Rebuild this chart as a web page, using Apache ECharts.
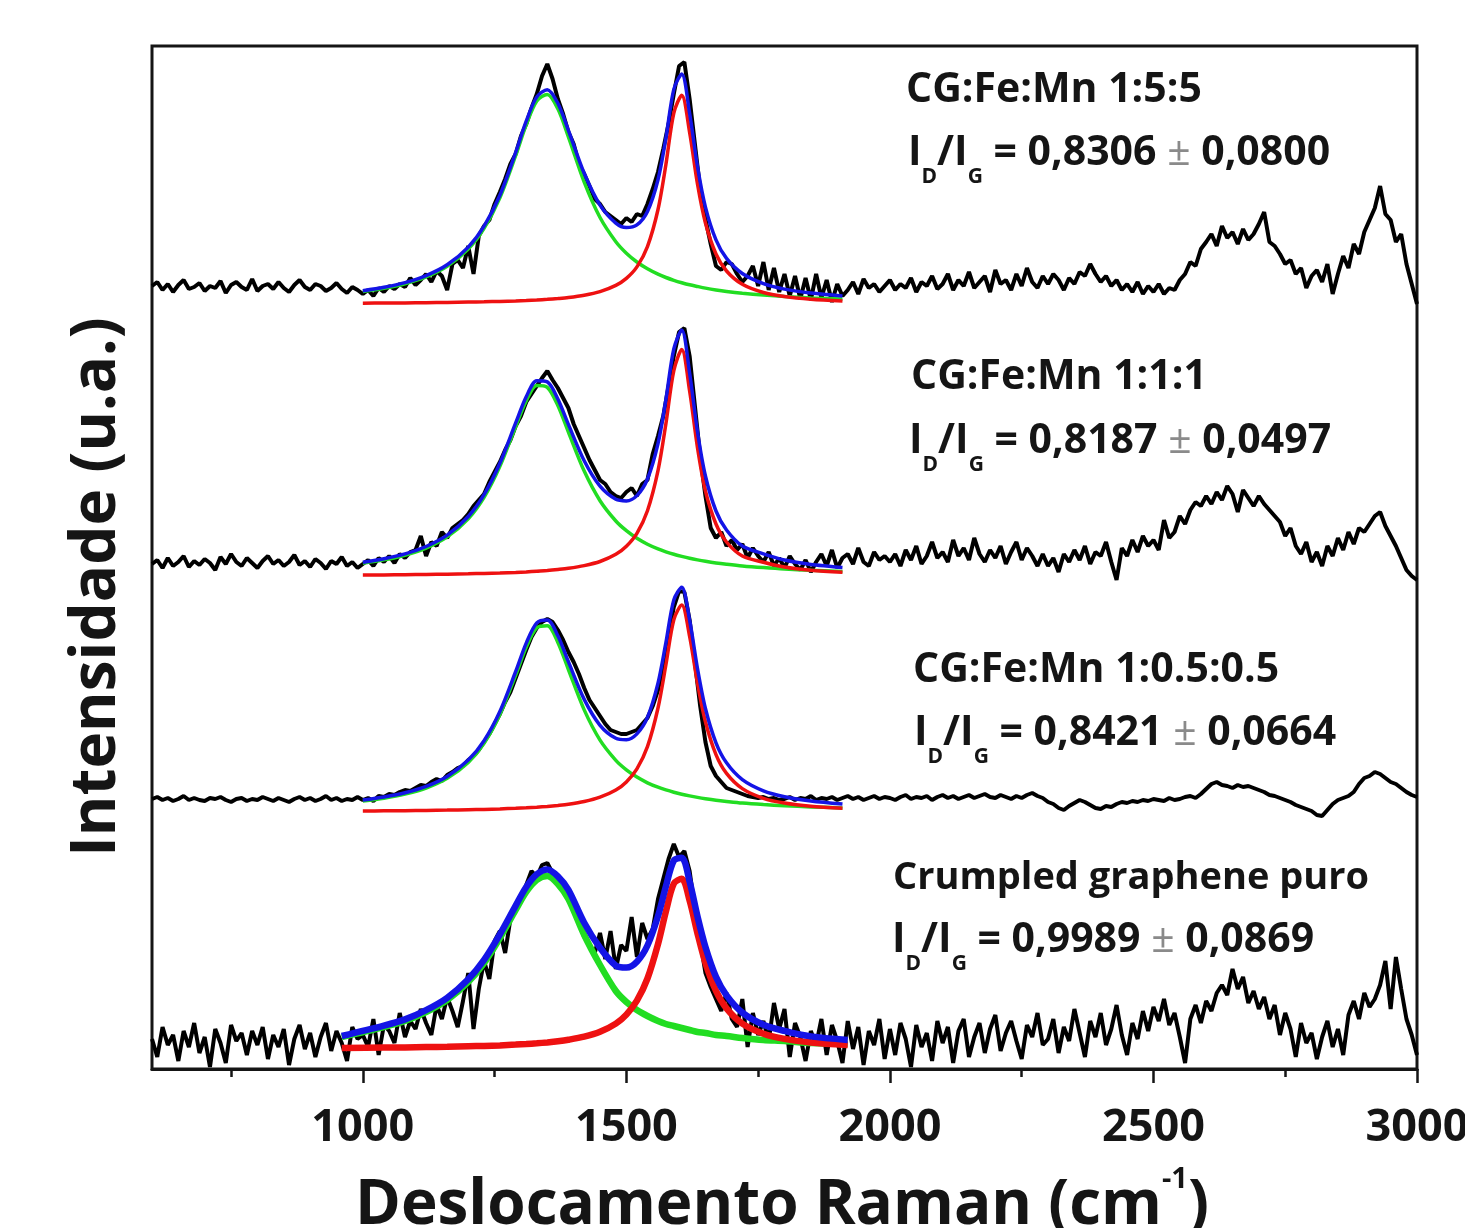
<!DOCTYPE html>
<html>
<head>
<meta charset="utf-8">
<title>Espectros Raman</title>
<script src="https://cdn.jsdelivr.net/npm/echarts@6/dist/echarts.min.js"></script>
<style>
  html, body { margin: 0; padding: 0; background: #fff; }
  #chart { width: 1465px; height: 1228px; }
</style>
</head>
<body>
<div id="chart"></div>
<script>
// espectros medidos: intensidade relativa à linha de base do ajuste, de 600 a 3000 cm-1, passo 10
const shiftStart = 600;
const shiftStep = 10;

const spec155 = [
  18,22,14,20,12,19,24,15,17,21,
  13,18,16,23,11,19,22,17,14,25,
  13,18,20,15,22,16,12,19,24,17,
  14,20,18,13,16,21,15,11,17,14,
  10,14,8,16,12,18,15,20,17,26,
  19,24,30,22,33,28,14,40,44,36,
  58,30,68,78,84,100,112,125,140,150,
  168,180,196,210,228,240,225,205,190,172,
  160,140,130,118,105,100,92,88,84,80,
  86,82,90,88,100,115,132,155,180,210,
  238,242,205,160,115,85,60,38,34,42,
  40,30,22,28,38,18,42,14,36,12,
  30,8,28,5,26,4,30,6,24,2,
  20,8,14,22,10,25,16,20,12,18,
  24,14,20,16,26,12,22,18,28,15,
  20,30,14,24,18,32,16,22,28,12,
  34,20,24,14,30,18,36,22,16,28,
  20,30,24,14,26,20,32,28,40,30,
  22,28,18,24,14,20,12,22,10,18,
  12,20,10,16,14,24,30,42,38,55,
  62,70,58,78,66,72,60,75,64,70,
  80,92,62,58,50,40,44,30,36,16,
  28,34,22,40,10,30,48,36,60,50,
  72,84,96,118,90,84,62,70,40,20,
  0
];

const spec111 = [
  12,16,8,18,10,14,20,9,15,11,
  17,13,6,19,12,22,14,10,18,13,
  8,15,20,12,16,10,14,21,11,15,
  9,17,13,7,15,12,19,10,14,8,
  12,16,10,18,14,20,13,22,18,24,
  26,40,20,34,30,44,38,48,52,56,
  62,70,76,82,94,104,114,126,136,150,
  160,174,182,190,198,205,196,188,178,168,
  152,140,128,116,106,96,92,84,80,78,
  84,88,80,92,96,122,140,160,190,220,
  244,248,220,170,120,80,48,38,44,30,
  36,26,32,18,28,20,14,24,10,18,
  8,20,12,6,16,4,14,22,10,26,
  8,18,22,12,28,14,10,24,16,20,
  14,22,10,26,16,30,12,20,34,18,
  24,14,36,20,28,16,38,22,14,26,
  18,30,12,24,34,16,28,20,10,22,
  10,18,4,22,14,26,16,30,12,24,
  20,34,14,-4,28,20,36,24,40,30,
  36,26,56,38,44,60,52,66,74,70,
  80,72,84,76,90,82,64,86,78,70,
  80,72,66,60,54,40,48,30,22,34,
  14,24,10,30,20,38,26,44,32,48,
  44,52,60,64,50,40,30,18,6,0,
  -4
];

const spec0505 = [
  13,15,12,14,11,13,16,12,14,12,
  11,14,13,15,12,10,13,14,11,13,
  12,15,13,11,14,12,10,13,15,12,
  14,11,13,16,12,14,11,13,12,15,
  12,14,11,16,15,18,17,20,22,21,
  24,27,26,30,33,31,37,40,44,46,
  52,56,62,70,78,88,98,110,120,134,
  148,162,175,184,190,193,190,182,172,160,
  150,138,124,112,104,96,88,82,80,78,
  78,80,82,88,94,106,122,146,176,205,
  221,220,192,150,106,70,46,36,30,24,
  22,20,18,16,15,14,15,13,14,12,
  13,15,12,14,13,16,12,14,13,15,
  12,14,16,13,15,12,14,16,13,15,
  14,12,15,17,13,15,14,16,12,15,
  17,14,16,13,15,17,14,16,18,15,
  14,17,15,13,16,14,17,19,16,14,
  10,8,4,2,6,9,12,10,7,4,
  3,6,5,8,10,9,11,10,12,11,
  13,12,11,14,12,13,15,16,14,18,
  23,28,30,27,26,24,27,25,26,24,
  22,20,17,16,14,12,10,7,5,3,
  1,-3,-4,2,8,12,14,16,20,28,
  34,36,40,38,34,30,28,24,20,17,
  15
];

const specPuro = [
  10,-8,22,4,14,-12,18,2,26,-4,
  12,-18,20,6,-14,24,8,16,-6,18,
  4,22,-10,14,2,20,-16,10,24,0,
  16,-8,12,26,-2,18,6,-12,22,10,
  14,2,30,-6,24,18,6,36,12,28,
  20,40,26,14,44,30,52,38,22,48,
  76,20,60,88,70,108,118,96,130,140,
  150,164,178,172,184,186,176,170,160,150,
  140,126,112,104,96,116,90,118,80,104,
  98,132,92,126,110,120,150,170,190,205,
  192,198,178,140,108,76,62,50,38,56,
  30,22,50,2,36,14,28,8,46,20,
  40,-8,26,12,-12,18,4,30,-6,24,
  8,-14,28,0,22,-16,18,4,30,-10,
  20,-6,26,10,-18,24,2,16,-12,28,
  6,22,-14,18,30,-8,12,26,-4,20,
  34,-2,16,28,8,-10,24,12,36,4,
  10,30,-4,22,8,40,16,-8,28,12,
  36,4,20,44,14,-6,26,10,38,18,
  42,28,50,24,36,12,-14,30,44,26,
  48,38,56,64,54,80,60,72,46,58,
  40,52,30,44,14,36,20,-8,26,6,
  16,-10,12,28,2,20,-6,34,48,30,
  56,42,50,64,88,40,92,60,30,14,
  -6
];

// deslocamento vertical de cada espectro no gráfico empilhado
const offsets = [765, 493, 257, 20];

// ajustes lorentzianos (banda D = verde, banda G = vermelho, soma = azul)
const fitX = [1000,1040,1080,1120,1160,1200,1230,1260,1290,1310,1330,1350,1370,1390,1420,1450,1480,
  1500,1520,1540,1560,1575,1590,1605,1620,1635,1650,1670,1690,1720,1760,1800,1850,1910];
const fitXPuro = [960,1040,1080,1120,1160,1200,1230,1260,1290,1310,1330,1350,1370,1390,1420,1450,1480,
  1500,1520,1540,1560,1575,1590,1605,1620,1635,1650,1670,1690,1720,1760,1800,1850,1920];

const green155 = [12.5,15.7,20.3,27.1,37.7,55.0,75.6,106.2,148.5,179.3,203.1,209.6,195.2,167.2,121.9,86.5,62.3,
  50.8,42,35.2,29.8,26.5,23.7,21.3,19.2,17.5,15.9,14.1,12.6,10.8,8.9,7.4,6.1,4.9];
const red155 = [0.8,1.0,1.1,1.3,1.5,1.9,2.2,2.6,3.1,3.5,4.0,4.7,5.5,6.5,8.8,12.4,18.6,
  25.6,37.1,57.4,94.5,139.5,191,208.7,171.6,119.7,81,50,33,19.7,11.5,7.5,4.8,3.1];
const blue155 = [13.3,16.7,21.4,28.4,39.2,56.9,77.8,108.8,151.6,182.8,207.1,214.3,200.7,173.7,130.7,98.9,80.9,
  76.4,79.1,92.6,124.3,166,214.7,230,190.8,137.2,96.9,64.1,45.6,30.5,20.4,14.9,10.9,8.0];

const green111 = [12.7,16.1,20.8,27.9,39.1,57.3,78.7,109.7,149.5,175.1,190.5,188.6,170.5,143.9,104.9,75.3,55.0,
  45.3,37.7,31.8,27.1,24.2,21.7,19.6,17.7,16.1,14.7,13.1,11.8,10.1,8.4,7.0,5.8,4.6];
const red111 = [1.0,1.1,1.3,1.6,1.8,2.2,2.6,3.0,3.6,4.1,4.8,5.5,6.5,7.7,10.4,14.5,21.7,
  29.8,42.7,65.2,105.3,152.3,205.3,226.4,185,128,85,52,34,20,13.8,9.0,5.8,3.8];
const blue111 = [13.7,17.2,22.1,29.5,40.9,59.5,81.3,112.7,153.1,179.2,195.3,194.1,177,151.6,115.3,89.8,76.7,
  75.1,80.4,97,132.4,176.5,227,246,203,144,100,65,46,30,22.2,16,11.6,8.4];

const green0505 = [10.9,13.8,17.9,24.0,33.7,49.6,68.7,97.4,136.8,164.7,184.3,186.3,169.6,142.5,102.1,71.9,51.7,
  42.2,34.9,29.2,24.8,22.1,19.8,17.8,16.1,14.6,13.3,11.8,10.6,9.0,7.5,6.3,5.1,4.1];
const red0505 = [1.0,1.2,1.3,1.6,1.9,2.3,2.6,3.1,3.7,4.2,4.8,5.6,6.6,7.8,10.5,14.8,22.0,
  30.1,43.2,65.4,104,147.2,192.3,207,175.7,128.6,90.2,57.4,38.6,23.4,13.7,9.0,5.8,3.8];
const blue0505 = [11.9,15.0,19.2,25.6,35.6,51.9,71.3,100.5,140.5,168.9,189.1,191.9,176.2,150.3,112.6,86.7,73.7,
  72.3,78.1,94.6,128.8,169.3,212.1,224.8,191.8,143.2,103.5,69.2,49.2,32.4,21.2,15.3,10.9,7.9];

const greenPuro = [12,22,28,37,49,67,86,111,139,157,169,173,165,150,114,84,58,
  47,39,33,28,25,23,21,19,17,16,14,13,11,9,8,6,5];
const redPuro = [1,1.4,1.6,1.9,2.2,2.7,3.1,3.6,4.4,5.0,5.7,6.6,7.7,9.2,12.3,17.2,25.4,
  34.4,48.3,70.5,104.9,137.6,165.4,170.3,148.3,115.4,86,58.1,40.6,25.4,15.3,10.1,6.6,4.1];
const bluePuro = [13,23.4,29.6,38.9,51.2,69.7,89.1,114.6,143.4,162,174.7,179.6,172.7,159.2,126.3,101.2,83.4,
  81.4,87.3,103.5,132.9,162.6,188.4,191.3,167.3,132.4,102,72.1,53.6,36.4,24.3,18.1,12.6,9.1];

const sampleNames = ['CG:Fe:Mn 1:5:5', 'CG:Fe:Mn 1:1:1', 'CG:Fe:Mn 1:0.5:0.5', 'Crumpled graphene puro'];
const ratios = ['0,8306', '0,8187', '0,8421', '0,9989'];
const ratioErrors = ['0,0800', '0,0497', '0,0664', '0,0869'];

const majorTicks = [1000, 1500, 2000, 2500, 3000];
const minorTicks = [750, 1250, 1750, 2250, 2750];

const fontFam = "'Open Sans', 'Liberation Sans', sans-serif";
const ink = '#151515';

const chart = echarts.init(document.getElementById('chart'));

const spectra = [spec155, spec111, spec0505, specPuro];
const fits = [
  { x: fitX, d: green155, g: red155, s: blue155, w: 3.5 },
  { x: fitX, d: green111, g: red111, s: blue111, w: 3.5 },
  { x: fitX, d: green0505, g: red0505, s: blue0505, w: 3.5 },
  { x: fitXPuro, d: greenPuro, g: redPuro, s: bluePuro, w: 6.5 }
];

const series = [];
spectra.forEach((spec, k) => {
  const off = offsets[k];
  series.push({
    type: 'line', name: sampleNames[k], showSymbol: false, symbol: 'none',
    data: spec.map((v, i) => [shiftStart + i * shiftStep, off + v]),
    lineStyle: { color: '#000', width: 4 }, z: 2
  });
  const f = fits[k];
  const mk = (vals, color, z) => ({
    type: 'line', showSymbol: false, symbol: 'none', smooth: 0.3,
    data: vals.map((v, i) => [f.x[i], off + v]),
    lineStyle: { color: color, width: f.w }, z: z
  });
  series.push(mk(f.d, '#22dd22', 3));
  series.push(mk(f.g, '#ee1111', 4));
  series.push(mk(f.s, '#1414e6', 5));
});

// textos das anotações
const mainStyle = { fontSize: 41, fontWeight: 'bold', fontFamily: fontFam, fill: ink, lineHeight: 48, verticalAlign: 'top' };
const nameStyleNarrow = Object.assign({}, mainStyle, { fontSize: 38 });
const subStyle = { fontSize: 21, fontWeight: 'bold', fontFamily: fontFam, fill: ink, lineHeight: 22, padding: [34, 0, 0, 0], verticalAlign: 'top' };
const pmStyle = { fontSize: 41, fontWeight: 'normal', fontFamily: fontFam, fill: '#8a8a8a', lineHeight: 48, verticalAlign: 'top' };

const labelPos = [
  { x1: 906, y1: 70, x2: 908, y2: 133 },
  { x1: 911, y1: 357, x2: 909, y2: 421 },
  { x1: 913, y1: 650, x2: 914, y2: 713 },
  { x1: 893, y1: 859, x2: 892, y2: 920 }
];

const graphics = [];
labelPos.forEach((p, k) => {
  graphics.push({
    type: 'text', left: p.x1, top: p.y1, z: 100,
    style: { text: '{m|' + sampleNames[k] + '}', rich: { m: k === 3 ? nameStyleNarrow : mainStyle } }
  });
  graphics.push({
    type: 'text', left: p.x2, top: p.y2, z: 100,
    style: {
      text: '{m|I}{s|D}{m|/I}{s|G}{m| = ' + ratios[k] + ' }{pm|±}{m| ' + ratioErrors[k] + '}',
      rich: { m: mainStyle, s: subStyle, pm: pmStyle }
    }
  });
});

// títulos dos eixos
graphics.push({
  type: 'text', left: 355, top: 1157, z: 100,
  style: {
    text: '{t|Deslocamento Raman (cm}{sup|-1}{t|)}',
    rich: {
      t: { fontSize: 62, fontWeight: 'bold', fontFamily: fontFam, fill: ink, lineHeight: 80, verticalAlign: 'bottom' },
      sup: { fontSize: 29, fontWeight: 'bold', fontFamily: fontFam, fill: ink, lineHeight: 24, padding: [8, 0, 0, 0], verticalAlign: 'top' }
    }
  }
});
graphics.push({
  type: 'text', x: 97, y: 587, rotation: Math.PI / 2, z: 100,
  style: {
    text: 'Intensidade (u.a.)', fontSize: 62, fontWeight: 'bold', fontFamily: fontFam, fill: ink,
    align: 'center', verticalAlign: 'middle'
  }
});

const option = {
  animation: false,
  backgroundColor: '#fff',
  grid: {
    left: 152, top: 46, right: 48, bottom: 159,
    outerBoundsMode: 'none', containLabel: false,
    show: true, borderColor: ink, borderWidth: 3, backgroundColor: 'transparent'
  },
  xAxis: [
    {
      type: 'value', min: 600, max: 3000, position: 'bottom',
      axisLine: { show: true, lineStyle: { color: ink, width: 3 } },
      axisTick: { show: true, customValues: majorTicks, length: 14, inside: false, lineStyle: { color: ink, width: 2.5 } },
      axisLabel: {
        customValues: majorTicks, margin: 37, fontSize: 45, fontWeight: 'bold', fontFamily: fontFam, color: ink,
        formatter: v => String(v)
      },
      splitLine: { show: false }
    },
    {
      type: 'value', min: 600, max: 3000, position: 'bottom', gridIndex: 0,
      axisLine: { show: false },
      axisTick: { show: true, customValues: minorTicks, length: 8, inside: false, lineStyle: { color: ink, width: 2.5 } },
      axisLabel: { show: false },
      splitLine: { show: false }
    }
  ],
  yAxis: {
    type: 'value', min: 0, max: 1023,
    axisLine: { show: false }, axisTick: { show: false }, axisLabel: { show: false }, splitLine: { show: false }
  },
  series: series,
  graphic: graphics
};

chart.setOption(option);
</script>
</body>
</html>
